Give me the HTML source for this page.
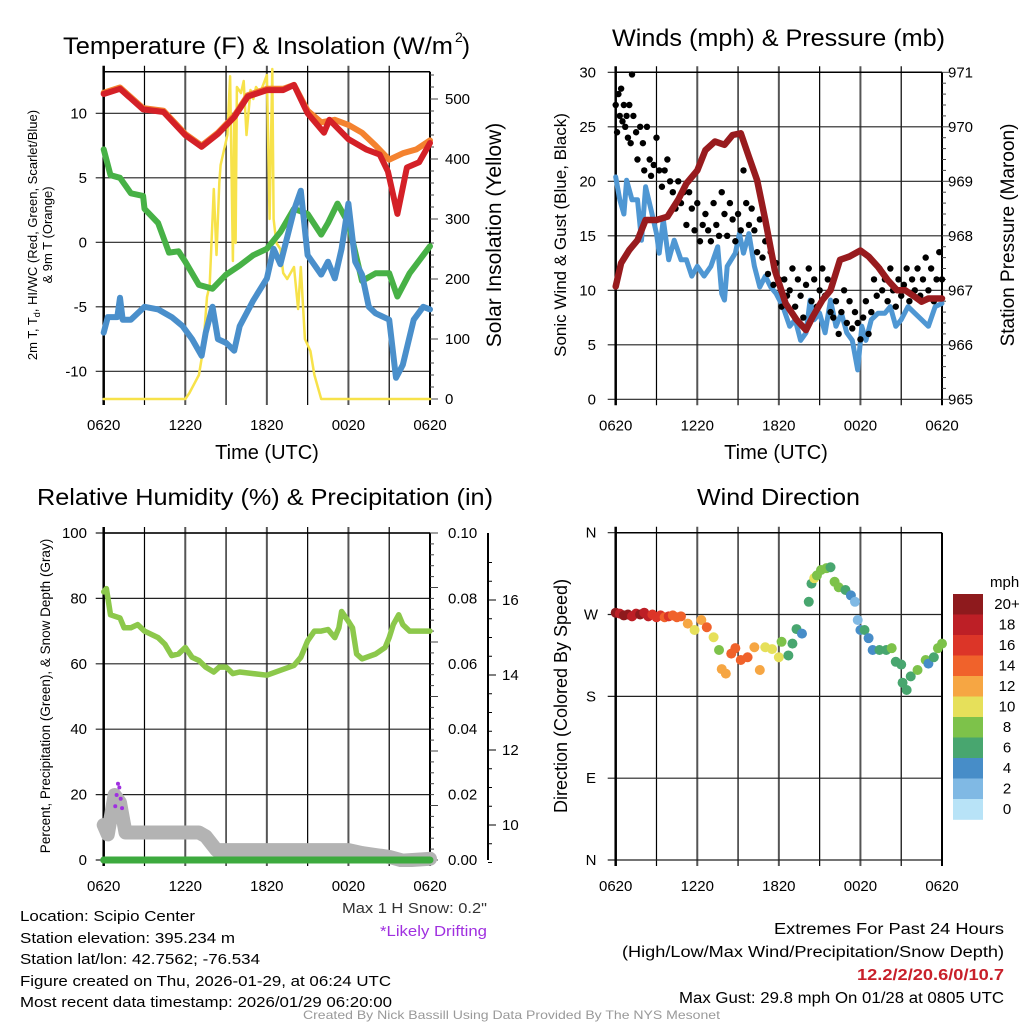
<!DOCTYPE html>
<html><head><meta charset="utf-8"><style>
html,body{margin:0;padding:0;background:#fff}
svg{display:block;font-family:"Liberation Sans",sans-serif}
</style></head><body>
<svg id="c" width="1024" height="1024" viewBox="0 0 1024 1024" xmlns="http://www.w3.org/2000/svg">
<g id="static">
<text x="63" y="54" font-size="24" textLength="390" lengthAdjust="spacingAndGlyphs">Temperature (F) &amp; Insolation (W/m</text>
<text x="455" y="42" font-size="14">2</text>
<text x="462" y="54" font-size="24">)</text>
<text x="612" y="46" font-size="24" textLength="333" lengthAdjust="spacingAndGlyphs">Winds (mph) &amp; Pressure (mb)</text>
<text x="37" y="505" font-size="23" textLength="456" lengthAdjust="spacingAndGlyphs">Relative Humidity (%) &amp; Precipitation (in)</text>
<text x="697" y="505" font-size="23" textLength="163" lengthAdjust="spacingAndGlyphs">Wind Direction</text>
<text x="267" y="459" font-size="20" text-anchor="middle">Time (UTC)</text>
<text x="776" y="459" font-size="20" text-anchor="middle">Time (UTC)</text>
<text transform="translate(37,235) rotate(-90)" font-size="13" text-anchor="middle">2m T, T<tspan font-size="9" dy="3">d</tspan><tspan dy="-3">, HI/WC (Red, Green, Scarlet/Blue)</tspan></text>
<text transform="translate(52,235) rotate(-90)" font-size="13" text-anchor="middle">&amp; 9m T (Orange)</text>
<text transform="translate(501,235) rotate(-90)" font-size="21" text-anchor="middle">Solar Insolation (Yellow)</text>
<text transform="translate(566,235) rotate(-90)" font-size="17" text-anchor="middle">Sonic Wind &amp; Gust (Blue, Black)</text>
<text transform="translate(1014,235) rotate(-90)" font-size="19" text-anchor="middle">Station Pressure (Maroon)</text>
<text transform="translate(50,696) rotate(-90)" font-size="13.5" text-anchor="middle">Percent, Precipitation (Green), &amp; Snow Depth (Gray)</text>
<text transform="translate(567,696) rotate(-90)" font-size="18" text-anchor="middle">Direction (Colored By Speed)</text>
<g font-size="15">
<text x="20" y="921" textLength="175" lengthAdjust="spacingAndGlyphs">Location: Scipio Center</text>
<text x="20" y="943" textLength="215" lengthAdjust="spacingAndGlyphs">Station elevation: 395.234 m</text>
<text x="20" y="964" textLength="240" lengthAdjust="spacingAndGlyphs">Station lat/lon: 42.7562; -76.534</text>
<text x="20" y="986" textLength="371" lengthAdjust="spacingAndGlyphs">Figure created on Thu, 2026-01-29, at 06:24 UTC</text>
<text x="20" y="1007" textLength="372" lengthAdjust="spacingAndGlyphs">Most recent data timestamp: 2026/01/29 06:20:00</text>
</g>
<text x="342" y="913" font-size="15" fill="#333" textLength="145" lengthAdjust="spacingAndGlyphs">Max 1 H Snow: 0.2"</text>
<text x="380" y="936" font-size="15" fill="#a030e0" textLength="107" lengthAdjust="spacingAndGlyphs">*Likely Drifting</text>
<g font-size="15.5">
<text x="774" y="934" textLength="230" lengthAdjust="spacingAndGlyphs">Extremes For Past 24 Hours</text>
<text x="622" y="957" textLength="382" lengthAdjust="spacingAndGlyphs">(High/Low/Max Wind/Precipitation/Snow Depth)</text>
<text x="857" y="980" fill="#c8202a" font-weight="bold" textLength="147" lengthAdjust="spacingAndGlyphs">12.2/2/20.6/0/10.7</text>
<text x="679" y="1003" textLength="325" lengthAdjust="spacingAndGlyphs">Max Gust: 29.8 mph On 01/28 at 0805 UTC</text>
</g>
<text x="303" y="1019" font-size="12" fill="#999" textLength="417" lengthAdjust="spacingAndGlyphs">Created By Nick Bassill Using Data Provided By The NYS Mesonet</text>
</g>
</svg>
<script>
// ---- data arrays (hours since 0620 UTC) ----
const xTickLabels=["0620","1220","1820","0020","0620"];
const tempTimes=[0,1.2,2.9,4.4,6,7.2,8.4,9.6,10.6,12,13.2,14,15,16.2,16.6,18,19.3,20.3,20.9,21.6,22.3,23.2,24];
const tempValues=[11.5,11.9,10.3,10.1,8.3,7.4,8.4,9.7,11.3,11.8,11.8,12.2,10,8.5,9.5,8,7.2,6.8,5.5,2.2,5.8,6.2,7.7];
const t9Times=[0,1.2,2.9,4.4,6,7.2,8.4,9.6,10.6,12,13.2,14,15,16,17,18,19,20,21,22,23,24];
const t9Values=[11.6,12,10.4,10.2,8.4,7.5,8.5,9.8,11.4,11.9,11.9,12.2,10.2,9.3,9.5,9.1,8.5,7.5,6.4,6.9,7.2,7.9];
const tdTimes=[0,0.5,1.2,2,2.9,3,4,4.8,5.5,6,7,8,9,10,11,12,13,14,15,16,16.5,17.2,18,19,20,21,21.6,22.5,24];
const tdValues=[7.2,5.2,5,3.8,3.6,2.6,1.5,-0.8,-0.7,-1.5,-3.3,-3.6,-2.5,-1.8,-1,-0.5,0.8,2.6,2.2,0.6,1.5,3,1.5,-3,-2.4,-2.4,-4.2,-2.4,-0.3];
const wcTimes=[0,0.3,1,1.2,1.4,2,3,4,5,5.8,6.5,7.2,7.5,8,8.4,9,9.6,10,11,12,12.5,13,14,14.5,15,16,16.5,17,17.5,18,18.5,19,19.5,20,21,21.5,22,22.8,23.5,24];
const wcValues=[-7,-5.8,-5.8,-4.3,-6,-6,-5,-5.2,-5.8,-6.5,-7.5,-8.8,-7,-5,-7.5,-7.8,-8.4,-6.5,-4.5,-2.8,-0.5,-1.7,2.5,4,-1,-2.5,-1.5,-2.8,-0.5,3,-1.5,-2.5,-5,-5.5,-6,-10.5,-9.5,-6,-5,-5.2];
const solarTimes=[0,6,6.3,7,7.3,7.6,7.8,8.1,8.3,8.5,8.6,8.9,9.1,9.3,9.5,9.6,9.7,9.8,10.1,10.3,10.5,10.8,11,11.2,11.5,12,12.2,12.4,12.5,12.7,13,13.2,13.5,14,14.3,14.5,14.8,15.2,15.5,16,24];
const solarValues=[0,0,10,40,80,170,190,350,240,360,390,420,440,538,230,470,260,520,510,530,440,515,500,520,510,540,300,550,300,260,250,210,200,220,150,220,100,80,40,0,0];
const windTimes=[0,0.3,0.6,0.8,1.2,1.6,1.9,2.2,2.6,3,3.2,3.5,3.9,4.3,4.8,5.2,5.6,6,6.5,7,7.5,7.8,8,8.2,8.8,9.1,9.4,9.8,10.2,10.6,11,11.4,11.8,12.3,12.8,13.2,13.6,14,14.3,14.6,15,15.4,15.8,16.2,16.6,17,17.4,17.8,18.1,18.4,18.8,19.3,19.8,20.2,20.6,21,21.5,22,22.5,23,23.5,24];
const windValues=[20.4,18.3,17,20.1,18.3,18.3,14.6,19.5,17.4,15.2,13.4,16.5,12.8,14.6,12.8,12.8,11.3,12.2,11.3,12.2,14,9.7,9.1,12.2,13.4,15.2,13.4,15.2,12.2,10.3,11.3,10.3,9.7,8.5,6.7,7.3,5.4,6.1,9.1,7.3,7.9,6.1,9.1,6.7,7.9,6.1,5.4,2.7,6.7,5.4,7.3,7.9,7.9,8.5,6.7,7.3,8.5,7.9,7.3,6.7,8.5,8.8];
const pressTimes=[0,0.4,1,1.6,2.2,3,3.8,4.6,5.2,6,6.6,7.3,8,8.6,9.2,9.8,10.4,11,11.7,12.5,13.3,14,14.5,15.2,15.8,16.5,17.2,18,18.6,19.3,20,20.7,21.3,22,22.5,23,24];
const pressValues=[967.07,967.5,967.74,967.92,968.29,968.29,968.35,968.66,968.96,969.2,969.57,969.73,969.67,969.85,969.88,969.45,969.02,968.29,967.37,966.76,966.46,966.27,966.52,966.82,967,967.56,967.62,967.73,967.62,967.43,967.19,967,967,966.88,966.79,966.85,966.85];
const gustTimes=[0,0.1,0.2,0.3,0.4,0.5,0.6,0.7,0.8,0.9,1.0,1.1,1.2,1.3,1.5,1.6,1.8,2.0,2.1,2.3,2.5,2.6,2.8,3.0,3.2,3.4,3.6,3.8,4.0,4.2,4.4,4.6,4.8,5.0,5.2,5.4,5.6,5.8,6.0,6.2,6.4,6.6,6.8,7.0,7.2,7.4,7.6,7.8,8.0,8.2,8.4,8.6,8.8,9.0,9.2,9.4,9.6,9.8,10.0,10.2,10.4,10.6,10.8,11.0,11.2,11.4,11.6,11.8,12.0,12.2,12.4,12.6,12.8,13.0,13.2,13.4,13.6,13.8,14.0,14.2,14.4,14.6,14.8,15.0,15.2,15.4,15.6,15.8,16.0,16.2,16.4,16.6,16.8,17.0,17.2,17.4,17.6,17.8,18.0,18.2,18.4,18.6,18.8,19.0,19.2,19.4,19.6,19.8,20.0,20.2,20.4,20.6,20.8,21.0,21.2,21.4,21.6,21.8,22.0,22.2,22.4,22.6,22.8,23.0,23.2,23.4,23.6,23.8,24];
const gustValues=[27,24.5,28,26,28.5,25.5,27,25,26,24,27,23.5,29.8,26,24.5,22,25,23.5,21,25,22,20.5,21.5,24,21,19.5,21,22,20,19,17.5,20,18,19,16,19,17.5,15.5,18,14.5,16,17,15.5,14.5,18,16,15,19,17,15,18,16.5,14.5,17,15.5,21,18,16,17.5,15.5,13.5,16.5,13,14.5,11.5,13.5,10.5,12.5,11,8.5,11,9.5,10,12,8.5,11,9.5,7.5,10.5,12,9,11,8.5,10,12,9.5,11,8,7.5,9,6,8,10,7,9,6.5,8,7,5.5,7.5,9,6,8,11,9.5,12,10,11,9,12,10,8.5,11,9.5,10.5,12,9,11,10,12,9.5,11,13,10,12,9,11,13.5,11];
const rhTimes=[0,0.2,0.5,1.2,1.5,2,2.5,3,4,4.5,5,5.5,6,6.5,7,7.5,8.1,8.5,9,9.5,10,11,12,13,14,14.5,15,15.5,16,16.5,17,17.3,17.5,18,18.3,18.6,19,20,20.7,21,21.3,21.7,22,22.5,23,24];
const rhValues=[82,83,75,74,71,71,72,70,68,66,62.5,63,65,62,61,59,57.5,59,59,57,57.5,57,56.5,58,59.5,62,67,70,70,70.5,68,71,76,73,71,63,61.5,63,65,68,72,75,72,70,70,70];
const snowTimes=[0,0.3,0.8,1.2,1.6,7,7.5,8.3,18,19,20,21,22,24];
const snowValues=[10,9.75,10.8,10.6,9.8,9.8,9.7,9.33,9.33,9.25,9.2,9.15,9.05,9.1];
const precipTimes=[0,24];
const precipValues=[0,0];
const driftTimes=[0.85,0.95,1.05,1.15,1.25,1.35];
const driftValues=[10.5,10.8,11.1,11.0,10.7,10.45];
const dirTimes=[0,0.3,0.6,0.9,1.2,1.5,1.8,2.1,2.4,2.7,3,3.3,3.6,3.9,4.2,4.5,4.8,5.3,5.8,6.3,6.7,7.2,7.6,7.8,8.1,8.5,8.8,9.2,9.7,10.2,10.6,11,11.5,12,12.2,12.7,13,13.3,13.7,14.2,14.4,14.6,14.8,15.1,15.5,15.8,16.1,16.4,16.9,17.3,17.6,17.8,18,18.3,18.6,18.9,19.4,19.9,20.3,20.6,21,21.1,21.4,21.7,22.2,22.8,23,23.4,23.7,24];
const dirValues=[272,271,269,270,268,271,270,272,268,270,267,269,267,268,269,267,268,260,253,264,256,245,231,210,205,227,233,220,223,234,209,234,232,223,240,225,238,254,249,284,304,310,313,319,321,322,306,300,297,291,284,264,253,253,244,231,231,231,233,218,215,195,187,202,209,220,216,223,233,238];
const dirSpeeds=[20,19,20,21,19,18,20,19,18,17,16,17,15,16,15,15,14,12,10,12,15,10,8,12,12,14,15,15,14,13,12,10,10,10,8,6,6,6,4,6,6,10,8,8,8,6,8,8,7,4,3,3,5,6,5,4,7,7,8,6,6,6,6,6,8,8,5,7,8,8];
const cbLabels=["20+","18","16","14","12","10","8","6","4","2","0"];
const cbColors=["#8e1a1d","#bd1f26","#dc3528","#f0622b","#f6a643","#e6e05a","#7dc24a","#48a66f","#478dc8","#80b9e4","#b8e3f7"];

const NS="http://www.w3.org/2000/svg";
const svg=document.getElementById('c');
function mk(tag,attrs,parent){const e=document.createElementNS(NS,tag);for(const k in attrs)e.setAttribute(k,attrs[k]);(parent||svg).appendChild(e);return e;}
function lin(d0,d1,r0,r1){return v=>r0+(v-d0)*(r1-r0)/(d1-d0);}
function pathOf(ts,vs,fx,fy){return ts.map((t,i)=>(i?'L':'M')+fx(t).toFixed(1)+','+fy(vs[i]).toFixed(1)).join('');}

function frame(x0,x1,y0,y1,yTicks,fy,name){
  const g=mk('g',{});
  
  
  const fx=lin(0,24,x0,x1);
  for(let h=3;h<24;h+=3){const l=mk('line',{x1:fx(h),x2:fx(h),y1:y0-6,y2:y1+6,stroke:h%6==0?'#555':'#000','stroke-width':h%6==0?2:1.2},g);
    }
  yTicks.forEach(v=>{const y=fy(v);const l=mk('line',{x1:x0-8,x2:x1,y1:y,y2:y,stroke:'#222','stroke-width':1.2},g);
    });
  mk('line',{x1:x0,x2:x0,y1:y0-6,y2:y1+6,stroke:'#000','stroke-width':2.5},g);
  mk('line',{x1:x1,x2:x1,y1:y0,y2:y1+6,stroke:'#000','stroke-width':2},g);
  mk('line',{x1:x0,x2:x1,y1:y0,y2:y0,stroke:'#000','stroke-width':1.5},g);
  xTickLabels.forEach((s,i)=>{const t=mk('text',{x:fx(i*6),y:y1+31,'font-size':15,'text-anchor':'middle'},g);t.textContent=s;
    });
  return fx;
}
function yLabels(vals,fy,x,anchor,fmt,name,size){vals.forEach(v=>{const t=mk('text',{x:x,y:fy(v)+5,'font-size':size||15,'text-anchor':anchor});t.textContent=fmt(v);
  });}
function rightTicks(x,y0,y1,n){for(let i=0;i<=n;i++){const y=y0+(y1-y0)*i/n;mk('line',{x1:x,x2:x+(i%5==0?8:4),y1:y,y2:y,stroke:'#444','stroke-width':1});}}
function line(d,stroke,w,name,extra){const p=mk('path',Object.assign({d:d,fill:'none',stroke:stroke,'stroke-width':w,'stroke-linejoin':'round','stroke-linecap':'round'},extra||{}));
  return p;}

// ---- Panel 1 ----
(function(){
  const fy=lin(0,10,242.3,113.3), fs=lin(0,500,399,99);
  const fx=frame(103.7,430,71.7,399,[-10,-5,0,5,10],fy,'temp-panel');
  yLabels([10,5,0,-5,-10],fy,87,'end',v=>v,'temp-y-tick');
  yLabels([0,100,200,300,400,500],fs,445,'start',v=>v,'solar-y-tick');
  rightTicks(430,399,75,27);
  line(pathOf(solarTimes,solarValues,fx,fs),'#f7e24a',2.5,'solar-line');
  line(pathOf(t9Times,t9Values,fx,fy),'#f4822f',6,'t9m-line');
  line(pathOf(tempTimes,tempValues,fx,fy),'#d42027',6,'temp-line');
  line(pathOf(tdTimes,tdValues,fx,fy),'#47b146',6,'dewpoint-line');
  line(pathOf(wcTimes,wcValues,fx,fy),'#4a8fcb',6,'windchill-line');
})();
// ---- Panel 2 ----
(function(){
  const fy=lin(0,30,399.3,72.3), fp=lin(965,971,399.3,72.3);
  const fx=frame(615.7,942,72.3,399.3,[0,5,10,15,20,25,30],fy,'wind-panel');
  yLabels([0,5,10,15,20,25,30],fy,596,'end',v=>v,'wind-y-tick');
  yLabels([965,966,967,968,969,970,971],fp,948,'start',v=>v,'pressure-y-tick');
  rightTicks(942,399.3,72.3,30);
  line(pathOf(windTimes,windValues,fx,fy),'#4f97d3',5,'wind-line');
  gustTimes.forEach((t,i)=>{const c=mk('circle',{cx:fx(t),cy:fy(gustValues[i]),r:3.2,fill:'#000'});
    });
  line(pathOf(pressTimes,pressValues,fx,fp),'#981b1e',6.5,'pressure-line');
})();
// ---- Panel 3 ----
(function(){
  const fy=lin(0,100,860,533), fp=lin(0,0.1,860,533), fsn=lin(10,16,825,600);
  const fx=frame(103.7,430,533,860,[0,20,40,60,80,100],fy,'rh-panel');
  yLabels([0,20,40,60,80,100],fy,87,'end',v=>v,'rh-y-tick');
  yLabels([0,0.02,0.04,0.06,0.08,0.1],fp,448,'start',v=>v.toFixed(2),'precip-y-tick');
  rightTicks(430,860,533,30);
  const ax=mk('line',{x1:488,x2:488,y1:533,y2:860,stroke:'#000','stroke-width':2});
  
  for(let v=9;v<=17;v+=0.5){mk('line',{x1:488,x2:v%2==0?496:492,y1:fsn(v),y2:fsn(v),stroke:'#000','stroke-width':1});}
  yLabels([10,12,14,16],fsn,502,'start',v=>v,'snow-y-tick');
  const cp=mk('clipPath',{id:'cp3'});mk('rect',{x:90,y:533,width:350,height:334},cp);
  line(pathOf(snowTimes,snowValues,fx,fsn),'#b3b3b3',14,'snow-depth-line',{'clip-path':'url(#cp3)'});
  line(pathOf(precipTimes,precipValues,fx,fp),'#3daa3e',7,'precip-line');
  line(pathOf(rhTimes,rhValues,fx,fy),'#8cc84b',5.5,'rh-line');
  driftTimes.forEach((t,i)=>{const c=mk('circle',{cx:fx(t),cy:fsn(driftValues[i]),r:2,fill:'#a030e0'});
    });
})();
// ---- Panel 4 ----
(function(){
  const fy=lin(0,360,860,532.7);
  const fx=frame(615.7,942,532.7,860,[0,90,180,270,360],fy,'direction-panel');
  const lbl=["N","E","S","W","N"];
  [0,90,180,270,360].forEach((v,i)=>{const t=mk('text',{x:591,y:fy(v)+5,'font-size':15,'text-anchor':'middle'});t.textContent=lbl[i];
    });
  function col(s){let k=Math.min(10,Math.floor(s/2));return cbColors[10-k];}
  dirTimes.forEach((t,i)=>{const c=mk('circle',{cx:fx(t),cy:fy(dirValues[i]),r:5,fill:col(dirSpeeds[i])});
    });
  const t=mk('text',{x:990,y:587,'font-size':15});t.textContent='mph';
  
  cbColors.forEach((c,i)=>{const r=mk('rect',{x:953,y:594+i*20.5,width:30,height:20.8,fill:c});
    
    const tx=mk('text',{x:1007,y:609+i*20.5,'font-size':15,'text-anchor':'middle'});tx.textContent=cbLabels[i];
    });
})();
</script>
</body></html>
